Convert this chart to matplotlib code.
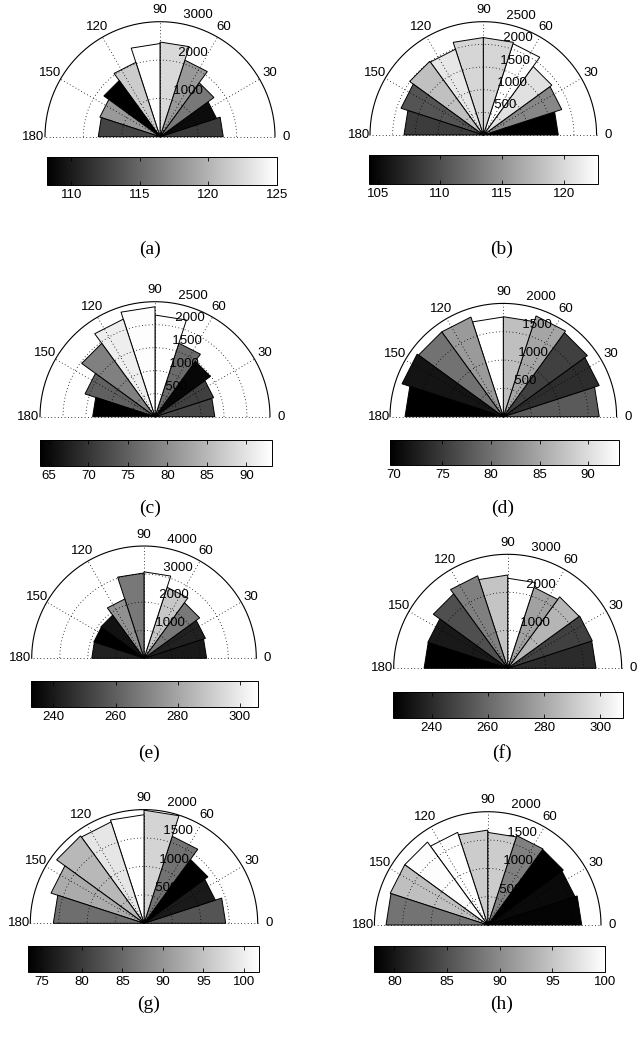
import numpy as np
import matplotlib
matplotlib.use('Agg')
from matplotlib import pyplot as plt
from matplotlib import colors, cm

plt.rcParams['font.family'] = 'Liberation Sans'

# 10 direction bins of 18 degrees between 0 and 180
bin_edges = np.arange(0, 181, 18)

# counts per bin (radius of each wedge) and mean value per bin (wedge colour)
a_counts = [1650, 1550, 1740, 2100, 2470, 2430, 2040, 1810, 1650, 1610]
a_values = [112.1, 109.0, 116.1, 118.3, 122.5, 125.0, 121.6, 108.2, 118.3, 112.7]
a_rings = [1000, 2000, 3000]
a_cticks = [110, 115, 120, 125]

b_counts = [1655, 1820, 1870, 2120, 2150, 2150, 1990, 2010, 1910, 1750]
b_values = [104.3, 114.1, 120.6, 122.8, 119.8, 119.8, 121.0, 118.2, 110.4, 108.7]
b_rings = [500, 1000, 1500, 2000, 2500]
b_cticks = [105, 110, 115, 120]

c_counts = [1300, 1340, 1490, 1680, 2210, 2390, 2230, 1970, 1600, 1355]
c_values = [71.8, 71.2, 64.8, 76.2, 93.2, 92.9, 91.2, 78.6, 75.0, 63.9]
c_rings = [500, 1000, 1500, 2000, 2500]
c_cticks = [65, 70, 75, 80, 85, 90]

d_counts = [1694, 1780, 1835, 1870, 1765, 1760, 1850, 1850, 1880, 1735]
d_values = [77.9, 73.8, 75.5, 84.9, 87.3, 93.2, 83.8, 80.2, 71.5, 69.6]
d_rings = [500, 1000, 1500, 2000]
d_cticks = [70, 75, 80, 85, 90]

e_counts = [2230, 2300, 2450, 2660, 3080, 3040, 2220, 1900, 1880, 1860]
e_values = [240.0, 242.2, 267.0, 289.6, 305.7, 267.0, 274.3, 237.8, 232.7, 242.2]
e_rings = [1000, 2000, 3000, 4000]
e_cticks = [240, 260, 280, 300]

f_counts = [2325, 2340, 2325, 2240, 2370, 2455, 2560, 2420, 2210, 2200]
f_values = [240.2, 246.8, 284.5, 278.0, 308.3, 289.4, 267.3, 251.7, 234.5, 226.3]
f_rings = [1000, 2000, 3000]
f_cticks = [240, 260, 280, 300]

g_counts = [1437, 1320, 1390, 1610, 1990, 1910, 1875, 1900, 1720, 1595]
g_values = [82.8, 76.3, 73.4, 86.2, 97.1, 101.9, 99.1, 93.9, 92.5, 85.7]
g_rings = [500, 1000, 1500, 2000]
g_cticks = [75, 80, 85, 90, 95, 100]

h_counts = [1660, 1620, 1650, 1660, 1635, 1675, 1720, 1810, 1810, 1795]
h_values = [78.5, 79.0, 78.1, 89.1, 95.6, 95.6, 100.0, 99.8, 94.5, 88.0]
h_rings = [500, 1000, 1500, 2000]
h_cticks = [80, 85, 90, 95, 100]

W, H = 643, 1038
fig = plt.figure(figsize=(W / 100, H / 100), dpi=100)
cmap = plt.get_cmap('gray')
dots = (0, (1, 3))


def rose(label, counts, values, rings, cticks, cx, cy, R, cb, cap):
    rmax = rings[-1]
    ax = fig.add_axes([(cx - 1.3 * R) / W, 1 - (cy + 0.12 * R) / H, 2.6 * R / W, 1.42 * R / H])
    ax.set_xlim(-1.3 * rmax, 1.3 * rmax)
    ax.set_ylim(-0.12 * rmax, 1.3 * rmax)
    ax.axis('off')
    norm = colors.Normalize(min(values), max(values))

    th = np.deg2rad(bin_edges)
    for i in range(len(counts)):
        r = counts[i]
        xs = [0, r * np.cos(th[i]), r * np.cos(th[i + 1])]
        ys = [0, r * np.sin(th[i]), r * np.sin(th[i + 1])]
        ax.fill(xs, ys, facecolor=cmap(norm(values[i])), edgecolor='k', lw=0.7, zorder=2)

    # grid: dotted rings and spokes, solid outer circle
    arc = np.linspace(0, np.pi, 200)
    for rg in rings[:-1]:
        ax.plot(rg * np.cos(arc), rg * np.sin(arc), color='k', ls=dots, lw=0.6, zorder=3)
    ax.plot(rmax * np.cos(arc), rmax * np.sin(arc), color='k', lw=0.8, zorder=3)
    for ang in range(0, 181, 30):
        a = np.deg2rad(ang)
        ax.plot([0, rmax * np.cos(a)], [0, rmax * np.sin(a)], color='k', ls=dots, lw=0.6, zorder=3)
        ax.text(1.1 * rmax * np.cos(a), 1.1 * rmax * np.sin(a), str(ang),
                ha='center', va='center', fontsize=9.5, clip_on=False)
    rinc = rings[1] - rings[0]
    c82, s82 = np.cos(np.deg2rad(82)), np.sin(np.deg2rad(82))
    for rg in rings:
        rr = rg + rinc / 20
        ax.text(rr * c82, rr * s82, '  ' + str(rg), ha='left', va='bottom',
                fontsize=9.5, zorder=4, clip_on=False)

    x0, y0, x1, y1 = cb
    cax = fig.add_axes([x0 / W, 1 - y1 / H, (x1 - x0) / W, (y1 - y0) / H])
    sm = cm.ScalarMappable(norm=norm, cmap=cmap)
    cbar = fig.colorbar(sm, cax=cax, orientation='horizontal', ticks=cticks)
    cax.tick_params(direction='in', length=3, width=0.6, top=True, bottom=True, labelsize=9.5, pad=3)
    cbar.outline.set_linewidth(0.7)

    fig.text(cap[0] / W, 1 - cap[1] / H, label, ha='center', va='center',
             family='Liberation Serif', fontsize=14)


rose('(a)', a_counts, a_values, a_rings, a_cticks, 160, 136.7, 115, (46.7, 156.7, 276.7, 185), (150, 249))
rose('(b)', b_counts, b_values, b_rings, b_cticks, 483.3, 135, 113.3, (369.3, 155, 598.3, 184.3), (502, 249))
rose('(c)', c_counts, c_values, c_rings, c_cticks, 155, 416.7, 115, (40, 440, 271.7, 466), (150, 508))
rose('(d)', d_counts, d_values, d_rings, d_cticks, 503.3, 416.7, 113.3, (390, 440, 619.3, 465), (503, 508))
rose('(e)', e_counts, e_values, e_rings, e_cticks, 144, 658.3, 112.3, (30.7, 680.7, 257.7, 706.7), (149, 753))
rose('(f)', f_counts, f_values, f_rings, f_cticks, 507.7, 668.3, 114, (393.3, 691.7, 623.3, 717.7), (502, 753))
rose('(g)', g_counts, g_values, g_rings, g_cticks, 144, 923.3, 113.7, (28.3, 945.7, 259.3, 971.7), (149, 1004))
rose('(h)', h_counts, h_values, h_rings, h_cticks, 487.7, 925, 113.3, (374.3, 945.7, 605, 972.3), (502, 1004))

fig.savefig('out.png', dpi=100)
